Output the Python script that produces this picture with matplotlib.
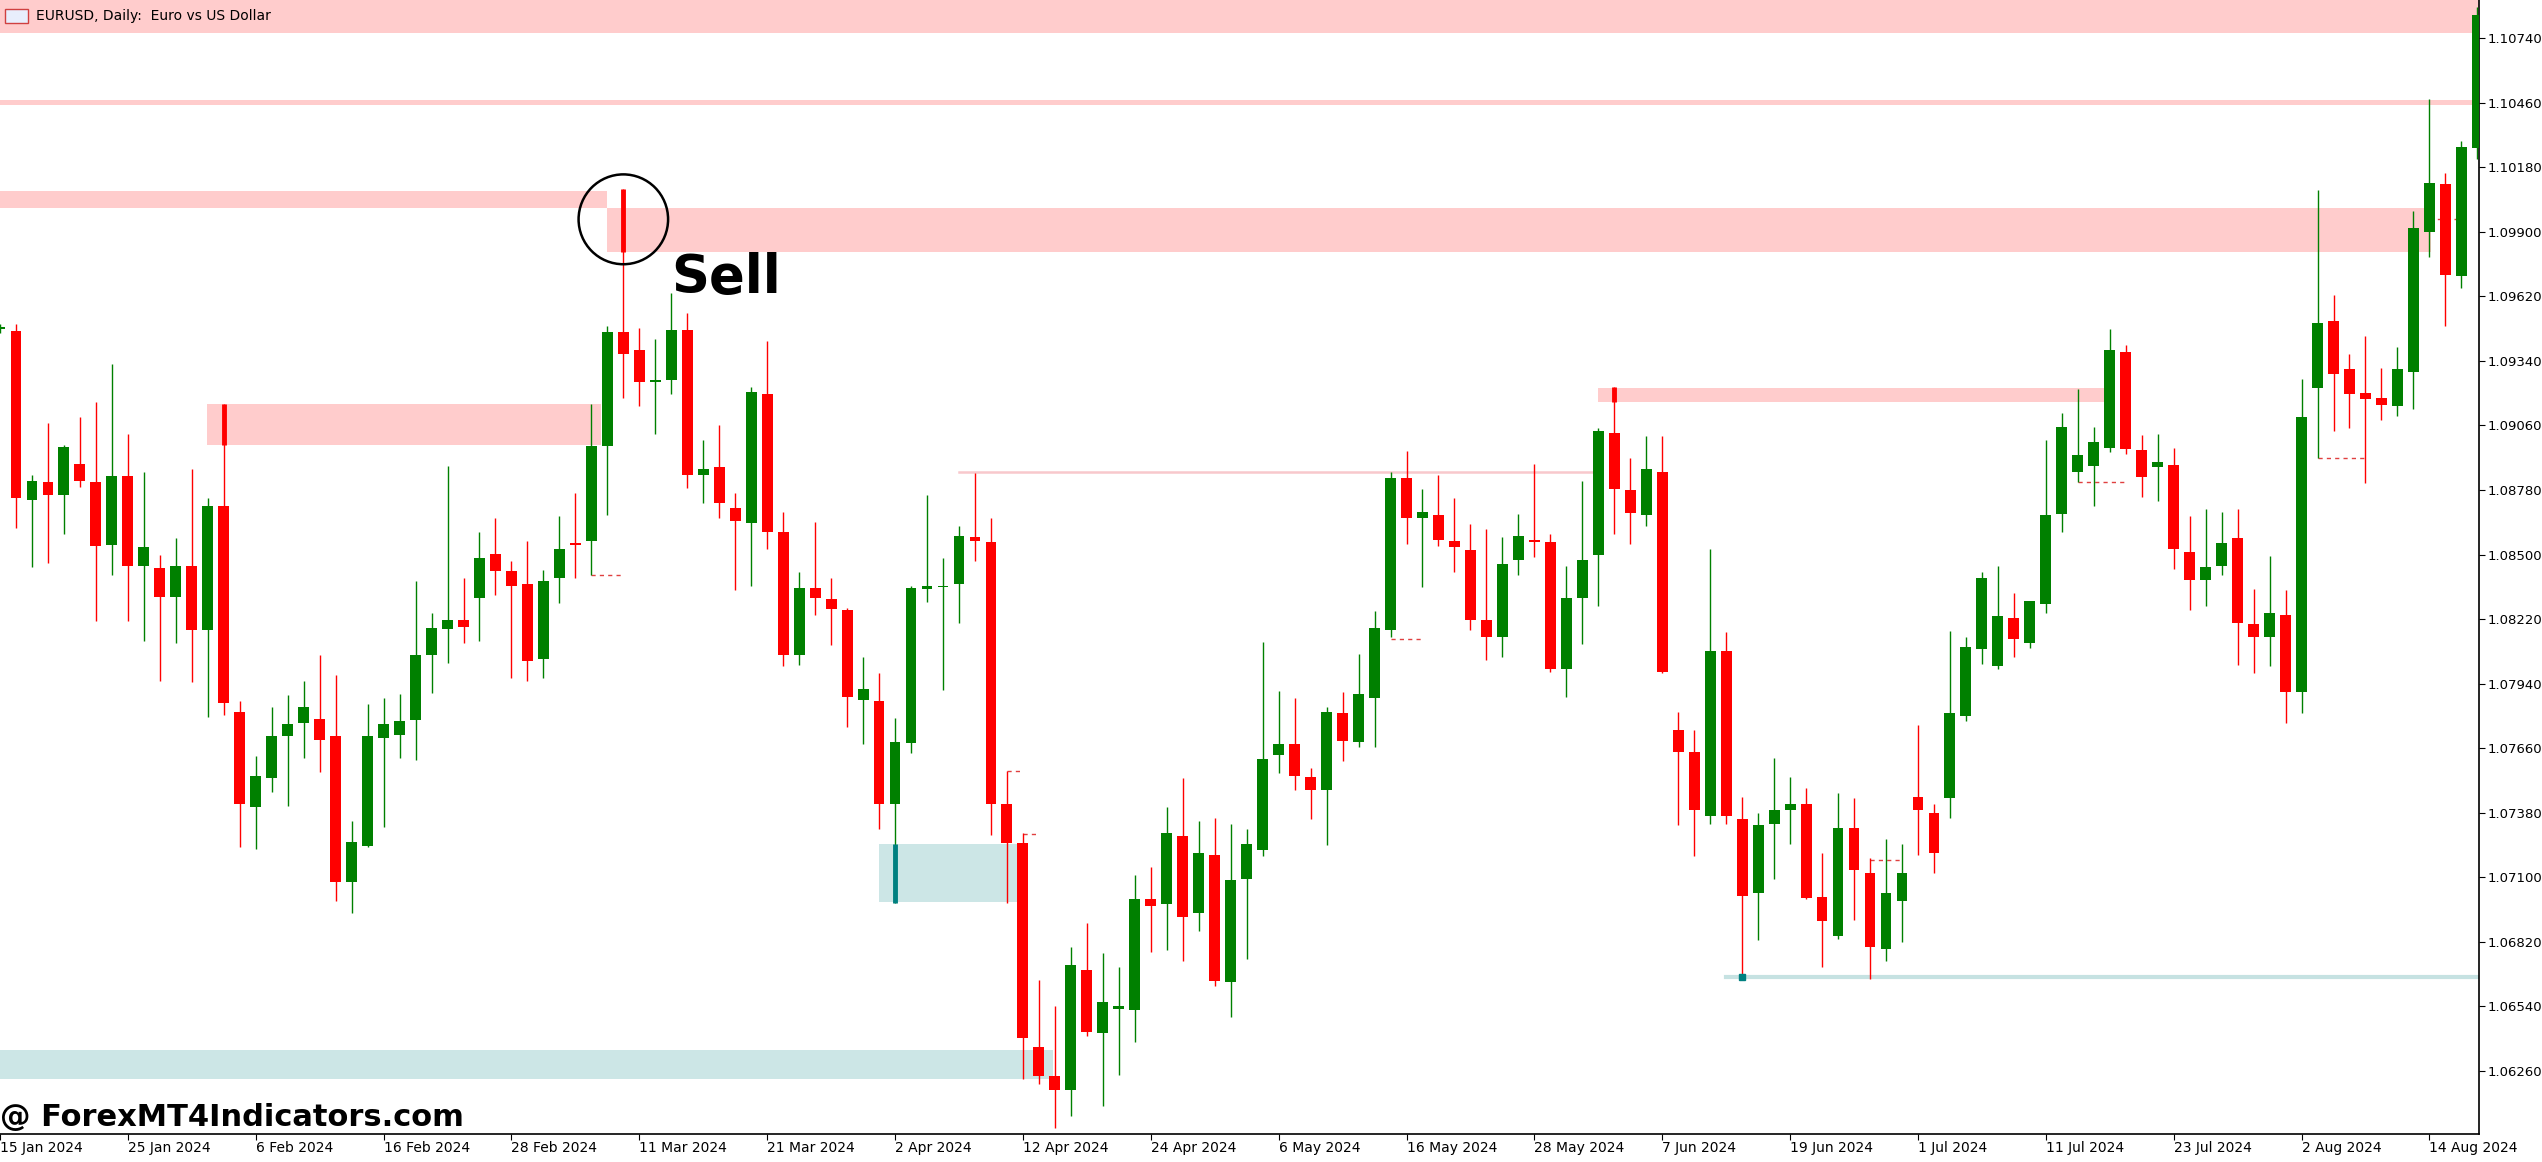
import numpy as np
import matplotlib
matplotlib.use("Agg")
import matplotlib.pyplot as plt
from matplotlib.patches import Ellipse, Rectangle

# EURUSD daily candles, index 0 = 15 Jan 2024
opens = [1.09478, 1.09469, 1.08735, 1.08815, 1.08757, 1.08892, 1.08815, 1.08541, 1.08841, 1.08451, 1.08442,
         1.08314, 1.08448, 1.08172, 1.08709, 1.07815, 1.07406, 1.07531, 1.07711, 1.07769, 1.07786,
         1.07711, 1.07080, 1.07235, 1.07702, 1.07715, 1.07782, 1.08062, 1.08178, 1.08217, 1.08310,
         1.08503, 1.08429, 1.08372, 1.08047, 1.08397, 1.08548, 1.08558, 1.08970, 1.09466, 1.09388,
         1.09247, 1.09259, 1.09475, 1.08844, 1.08880, 1.08702, 1.08638, 1.09195, 1.08596, 1.08062,
         1.08355, 1.08307, 1.08258, 1.07870, 1.07866, 1.07419, 1.07683, 1.08349, 1.08358, 1.08372,
         1.08577, 1.08554, 1.07416, 1.07248, 1.06360, 1.06235, 1.06177, 1.06698, 1.06425, 1.06525,
         1.06522, 1.07003, 1.06981, 1.07280, 1.06942, 1.07196, 1.06646, 1.07093, 1.07219, 1.07628,
         1.07676, 1.07535, 1.07477, 1.07811, 1.07686, 1.07879, 1.08172, 1.08834, 1.08660, 1.08670,
         1.08558, 1.08519, 1.08214, 1.08140, 1.08477, 1.08561, 1.08554, 1.08001, 1.08310, 1.08500,
         1.09028, 1.08780, 1.08673, 1.08857, 1.07737, 1.07641, 1.07364, 1.08082, 1.07354, 1.07032,
         1.07332, 1.07393, 1.07416, 1.07013, 1.06846, 1.07312, 1.07116, 1.06788, 1.06997, 1.07448,
         1.07380, 1.07441, 1.07798, 1.08088, 1.08018, 1.08223, 1.08114, 1.08285, 1.08677, 1.08860,
         1.08883, 1.08963, 1.09379, 1.08953, 1.08880, 1.08889, 1.08513, 1.08391, 1.08448, 1.08570,
         1.08198, 1.08140, 1.08236, 1.07902, 1.09221, 1.09514, 1.09304, 1.09201, 1.09179, 1.09143,
         1.09291, 1.09900, 1.10109, 1.09707, 1.10266]
highs = [1.09500, 1.09501, 1.08844, 1.09069, 1.08976, 1.09095, 1.09163, 1.09327, 1.09021, 1.08857, 1.08500,
         1.08570, 1.08873, 1.08747, 1.09153, 1.07866, 1.07625, 1.07840, 1.07889, 1.07953, 1.08062,
         1.07976, 1.07344, 1.07853, 1.07876, 1.07895, 1.08387, 1.08246, 1.08883, 1.08397, 1.08596,
         1.08660, 1.08471, 1.08558, 1.08432, 1.08667, 1.08767, 1.09153, 1.09491, 1.10086, 1.09482,
         1.09437, 1.09636, 1.09549, 1.08995, 1.09063, 1.08767, 1.09227, 1.09427, 1.08686, 1.08426,
         1.08641, 1.08397, 1.08268, 1.08053, 1.07985, 1.07789, 1.08365, 1.08760, 1.08484, 1.08622,
         1.08854, 1.08660, 1.07560, 1.07290, 1.06653, 1.06538, 1.06795, 1.06901, 1.06772, 1.06708,
         1.07110, 1.07142, 1.07406, 1.07528, 1.07341, 1.07357, 1.07331, 1.07309, 1.08120, 1.07908,
         1.07876, 1.07573, 1.07840, 1.07902, 1.08069, 1.08255, 1.08860, 1.08950, 1.08783, 1.08847,
         1.08747, 1.08632, 1.08612, 1.08574, 1.08677, 1.08892, 1.08590, 1.08451, 1.08821, 1.09047,
         1.09227, 1.08918, 1.09015, 1.09015, 1.07818, 1.07737, 1.08525, 1.08162, 1.07448, 1.07377,
         1.07615, 1.07535, 1.07486, 1.07206, 1.07464, 1.07441, 1.07181, 1.07264, 1.07245, 1.07760,
         1.07416, 1.08169, 1.08140, 1.08423, 1.08449, 1.08333, 1.08297, 1.08995, 1.09114, 1.09220,
         1.09053, 1.09478, 1.09408, 1.09018, 1.09021, 1.08963, 1.08667, 1.08696, 1.08683, 1.08696,
         1.08352, 1.08494, 1.08346, 1.09262, 1.10083, 1.09626, 1.09369, 1.09450, 1.09311, 1.09401,
         1.09993, 1.10476, 1.10157, 1.10296, 1.10875]
lows = [1.09460, 1.08615, 1.08445, 1.08461, 1.08590, 1.08793, 1.08210, 1.08409, 1.08210, 1.08124, 1.07953,
        1.08114, 1.07947, 1.07795, 1.07802, 1.07229, 1.07222, 1.07467, 1.07409, 1.07618, 1.07554,
        1.06997, 1.06942, 1.07229, 1.07315, 1.07618, 1.07608, 1.07898, 1.08027, 1.08114, 1.08124,
        1.08326, 1.07963, 1.07953, 1.07963, 1.08288, 1.08397, 1.08413, 1.08673, 1.09179, 1.09143,
        1.09021, 1.09198, 1.08789, 1.08725, 1.08660, 1.08346, 1.08362, 1.08525, 1.08018, 1.08021,
        1.08236, 1.08108, 1.07753, 1.07676, 1.07309, 1.06987, 1.07638, 1.08294, 1.07911, 1.08204,
        1.08471, 1.07283, 1.06987, 1.06225, 1.06202, 1.06009, 1.06064, 1.06408, 1.06106, 1.06241,
        1.06386, 1.06775, 1.06782, 1.06737, 1.06865, 1.06627, 1.06492, 1.06746, 1.07190, 1.07551,
        1.07477, 1.07351, 1.07238, 1.07602, 1.07663, 1.07663, 1.08140, 1.08545, 1.08358, 1.08535,
        1.08426, 1.08172, 1.08043, 1.08053, 1.08410, 1.08487, 1.07992, 1.07882, 1.08111, 1.08275,
        1.08590, 1.08545, 1.08622, 1.07985, 1.07325, 1.07190, 1.07328, 1.07328, 1.06660, 1.06826,
        1.07093, 1.07245, 1.07003, 1.06708, 1.06833, 1.06913, 1.06656, 1.06737, 1.06817, 1.07196,
        1.07119, 1.07357, 1.07779, 1.08024, 1.08005, 1.08053, 1.08095, 1.08246, 1.08596, 1.08815,
        1.08712, 1.08944, 1.08937, 1.08751, 1.08731, 1.08435, 1.08259, 1.08275, 1.08413, 1.08021,
        1.07985, 1.08014, 1.07769, 1.07814, 1.08921, 1.09034, 1.09050, 1.08812, 1.09085, 1.09102,
        1.09130, 1.09793, 1.09491, 1.09659, 1.10218]
closes = [1.09488, 1.08744, 1.08821, 1.08757, 1.08966, 1.08821, 1.08535, 1.08841, 1.08451, 1.08532, 1.08317,
          1.08448, 1.08172, 1.08709, 1.07857, 1.07419, 1.07538, 1.07711, 1.07766, 1.07840, 1.07695,
          1.07080, 1.07254, 1.07711, 1.07766, 1.07779, 1.08065, 1.08182, 1.08217, 1.08185, 1.08484,
          1.08429, 1.08365, 1.08037, 1.08384, 1.08525, 1.08541, 1.08970, 1.09466, 1.09369, 1.09247,
          1.09259, 1.09475, 1.08844, 1.08870, 1.08725, 1.08644, 1.09204, 1.08596, 1.08062, 1.08355,
          1.08310, 1.08262, 1.07882, 1.07915, 1.07419, 1.07686, 1.08355, 1.08362, 1.08362, 1.08580,
          1.08558, 1.07416, 1.07248, 1.06402, 1.06235, 1.06177, 1.06717, 1.06428, 1.06557, 1.06541,
          1.07003, 1.06974, 1.07290, 1.06926, 1.07203, 1.06650, 1.07087, 1.07245, 1.07612, 1.07676,
          1.07538, 1.07477, 1.07815, 1.07692, 1.07895, 1.08182, 1.08834, 1.08660, 1.08683, 1.08561,
          1.08532, 1.08217, 1.08143, 1.08458, 1.08580, 1.08554, 1.08001, 1.08310, 1.08474, 1.09034,
          1.08783, 1.08680, 1.08870, 1.07988, 1.07641, 1.07393, 1.08082, 1.07364, 1.07016, 1.07325,
          1.07393, 1.07416, 1.07010, 1.06910, 1.07312, 1.07129, 1.06795, 1.07029, 1.07116, 1.07393,
          1.07203, 1.07811, 1.08098, 1.08397, 1.08233, 1.08133, 1.08297, 1.08673, 1.09053, 1.08934,
          1.08989, 1.09388, 1.08957, 1.08837, 1.08902, 1.08525, 1.08391, 1.08445, 1.08548, 1.08204,
          1.08140, 1.08246, 1.07905, 1.09098, 1.09504, 1.09282, 1.09198, 1.09175, 1.09150, 1.09304,
          1.09916, 1.10112, 1.09713, 1.10270, 1.10843]

date_labels = ["15 Jan 2024", "25 Jan 2024", "6 Feb 2024", "16 Feb 2024", "28 Feb 2024", "11 Mar 2024",
               "21 Mar 2024", "2 Apr 2024", "12 Apr 2024", "24 Apr 2024", "6 May 2024", "16 May 2024",
               "28 May 2024", "7 Jun 2024", "19 Jun 2024", "1 Jul 2024", "11 Jul 2024", "23 Jul 2024",
               "2 Aug 2024", "14 Aug 2024"]
price_ticks = [1.06260, 1.06540, 1.06820, 1.07100, 1.07380, 1.07660, 1.07940, 1.08220, 1.08500,
               1.08780, 1.09060, 1.09340, 1.09620, 1.09900, 1.10180, 1.10460, 1.10740]

# supply / demand zones: (start bar, end bar, low, high)
supply_zones = [(-1, 160, 1.10763, 1.1100), (-1, 160, 1.10453, 1.10473), (-1, 37.98, 1.10006, 1.10080),
                (37.98, 152.1, 1.09813, 1.10003), (12.97, 37.6, 1.08976, 1.09153), (100.0, 131.7, 1.09160, 1.09223)]
demand_zones = [(55.0, 63.7, 1.06990, 1.07245), (-1, 65.9, 1.06225, 1.06350)]
pink_line = (60.0, 99.8, 1.08857)
teal_line = (108.0, 160, 1.06666)
dashed = [(37, 39, 1.08412), (87, 89, 1.08133), (63, 64, 1.07560), (64, 65, 1.07287),
          (130, 133, 1.08815), (117, 119, 1.07175), (145, 148, 1.08921), (152, 154, 1.09958)]

GREEN = "#008000"
RED = "#ff0000"
PINK = "#ffcccc"
TEAL = "#cce6e6"

fig = plt.figure(figsize=(25.42, 11.62), dpi=100)
ax = fig.add_axes([0, 0.024, 0.9752, 0.976])

for x0, x1, lo, hi in supply_zones:
    ax.add_patch(Rectangle((x0, lo), x1 - x0, hi - lo, color=PINK, lw=0, zorder=1))
for x0, x1, lo, hi in demand_zones:
    ax.add_patch(Rectangle((x0, lo), x1 - x0, hi - lo, color=TEAL, lw=0, zorder=1))
ax.plot(pink_line[:2], [pink_line[2]] * 2, color="#f8c8cc", lw=1.8, zorder=1)
ax.plot(teal_line[:2], [teal_line[2]] * 2, color="#c6e2e2", lw=3, zorder=1)
for x0, x1, y in dashed:
    ax.plot([x0, x1], [y, y], color="#e04040", lw=1, ls=(0, (3, 3)), zorder=2)

o = np.array(opens); h = np.array(highs); l = np.array(lows); c = np.array(closes)
x = np.arange(len(o))
up = c >= o
cols = np.where(up, GREEN, RED)
ax.vlines(x, l, h, colors=cols, lw=1.0, zorder=3)
body_lo = np.minimum(o, c)
body_h = np.maximum(np.abs(c - o), 0.00005)
ax.bar(x, body_h, bottom=body_lo, width=0.68, color=cols, lw=0, zorder=4)

# thick wicks on the signal candles
ax.vlines([39, 14, 101], [1.09813, 1.08976, 1.09160], [1.10086, 1.09153, 1.09227],
          colors=RED, lw=3.5, zorder=5)
ax.vlines([56], [1.06987], [1.07245], colors="#008080", lw=3.5, zorder=5)
ax.plot([109], [1.06666], "s", color="#008080", ms=4, zorder=5)

ax.add_patch(Ellipse((39, 1.09955), 5.6, 0.0039, fill=False, ec="black", lw=1.8, zorder=6))
ax.text(42.0, 1.09636, "Sell", fontsize=38, fontweight="heavy", color="black", va="baseline", zorder=6)

ax.set_xlim(0.09, 155.1)
ax.set_ylim(1.05984, 1.10907)
for s in ["top", "left"]:
    ax.spines[s].set_visible(False)
ax.spines["right"].set_linewidth(1.2)
ax.spines["bottom"].set_linewidth(1.2)
ax.yaxis.tick_right()
ax.set_yticks(price_ticks)
ax.set_yticklabels([f"{p:.5f}" for p in price_ticks], fontsize=9.5)
ax.set_xticks(np.arange(0, 8 * len(date_labels), 8))
ax.set_xticklabels(date_labels, fontsize=10, ha="left")
ax.tick_params(axis="x", length=4, pad=1)
ax.tick_params(axis="y", length=4, pad=2)

fig.text(0.014, 0.986, "EURUSD, Daily:  Euro vs US Dollar", fontsize=10, va="center")
fig.patches.append(Rectangle((0.002, 0.98), 0.009, 0.012, transform=fig.transFigure,
                             fc="#e8eefc", ec="#d04040", lw=1))
fig.text(0.0, 0.031, "@ ForexMT4Indicators.com", fontsize=22, fontweight="heavy", va="baseline")

fig.savefig("out.png", dpi=100)
